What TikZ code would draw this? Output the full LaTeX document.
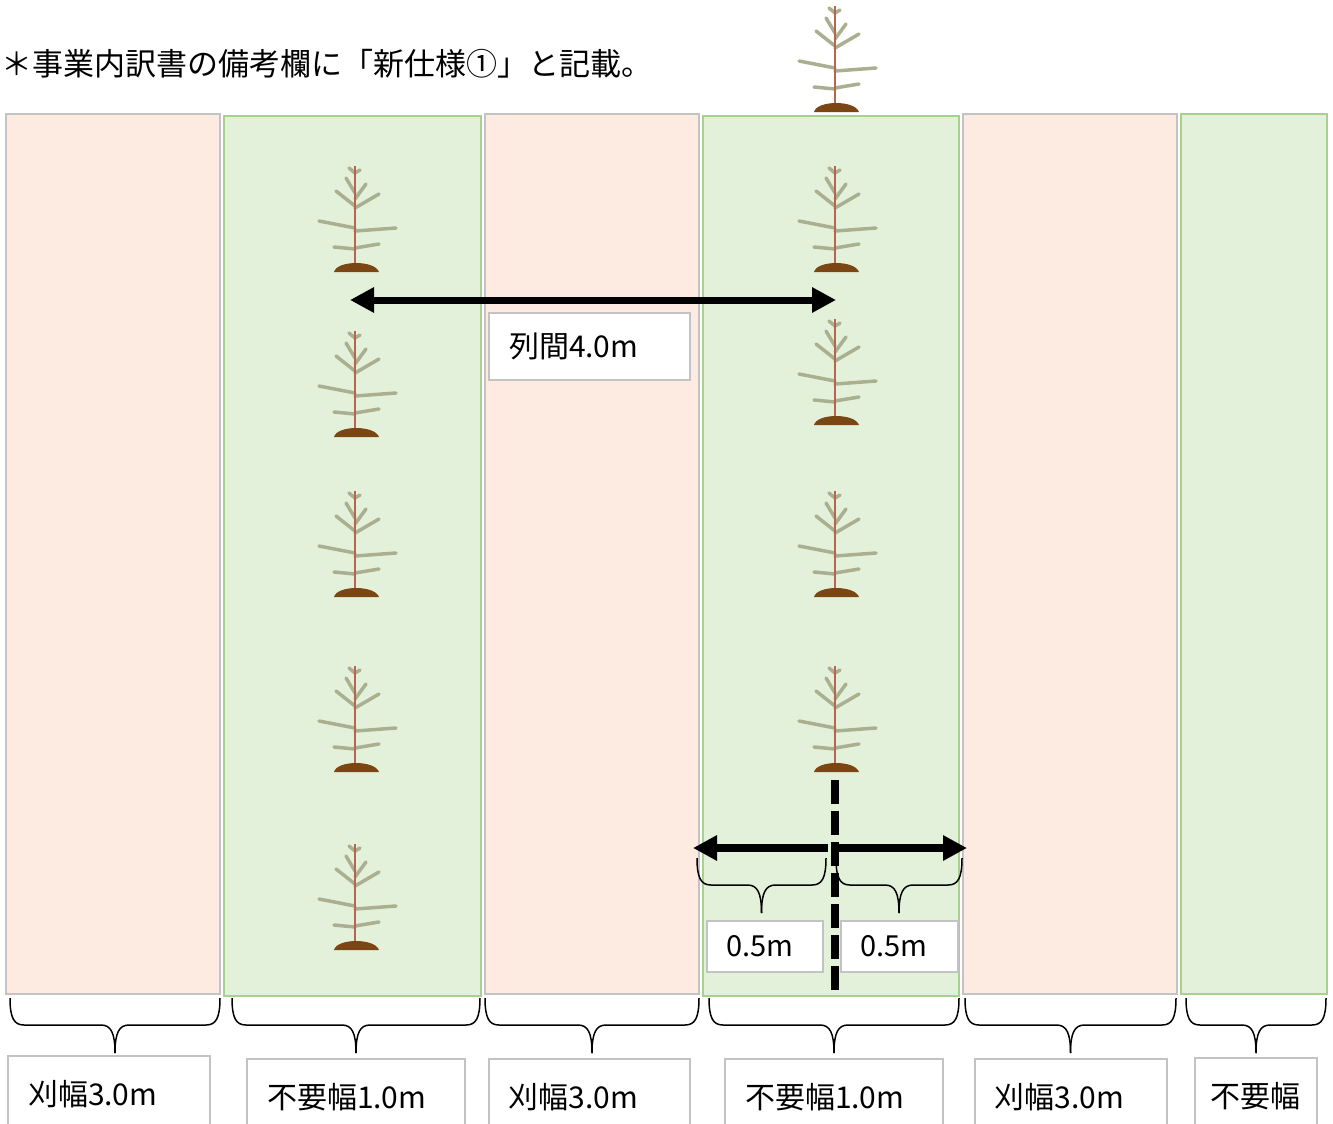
\documentclass[tikz,border=0pt]{standalone}
\usepackage{fontspec}
\setmainfont{Noto Sans CJK JP}
\usepackage{tikz}
\usetikzlibrary{arrows.meta,positioning,calc}

\definecolor{kariFill}{HTML}{FDEAE0}
\definecolor{kariLine}{HTML}{C3C3C3}
\definecolor{fuyoFill}{HTML}{E4F1DA}
\definecolor{fuyoLine}{HTML}{A9D08E}
\definecolor{miki}{HTML}{B8644E}
\definecolor{ha}{HTML}{A9AF8F}
\definecolor{tsuchi}{HTML}{7A4614}

\tikzset{
  kari/.style={draw=kariLine, fill=kariFill, line width=2pt, inner sep=0, outer sep=0, minimum height=880},
  fuyo/.style={draw=fuyoLine, fill=fuyoFill, line width=2pt, inner sep=0, outer sep=0, minimum height=880},
  lbl/.style={draw=kariLine, fill=white, line width=2pt, inner xsep=20pt, inner ysep=0, outer sep=0,
    align=left, font=\fontsize{30}{36}\selectfont},
  kakko/.style={draw=black, line width=1.5pt},
  yajirushi/.style={line width=8pt, -{Triangle[length=24pt,width=24pt]}},
  tensen/.style={line width=8pt, dash pattern=on 24pt off 7pt},
  naegi/.pic={
    \foreach \ty/\bx/\by in {-99/-6/-104, -99/5/-102, -79/-9/-94, -66/-19/-81, -73/11/-88,
      -64/24/-78, -44/-36/-51, -41/41/-44, -23/-21/-25, -24/24/-28}
      \draw[ha, line width=3.5pt, line cap=round] (0,\ty) -- (\bx,\by);
    \draw[miki, line width=2.5pt] (0,-3) -- (0,-106);
    \fill[tsuchi] (-21,0) .. controls (-18,-12) and (20,-12) .. (24,0) -- cycle;
  }
}

% brace under two points, tip named #3
\newcommand{\Kakko}[3]{%
  \coordinate (#3) at ($(#1)!0.5!(#2)+(0,55)$);
  \draw[kakko] (#1) .. controls +(0,20) and +(-10,0) .. ($(#1)+(14,27)$)
    -- ($(#3)+(-14,-28)$) .. controls +(10,0) and +(0,-20) .. (#3);
  \draw[kakko] (#2) .. controls +(0,20) and +(10,0) .. ($(#2)+(-14,27)$)
    -- ($(#3)+(14,-28)$) .. controls +(-10,0) and +(0,-20) .. (#3);
}

\begin{document}
\begin{tikzpicture}[x=1pt,y=-1pt]
  \useasboundingbox (0,0) rectangle (1333,1124);
  \clip (0,0) rectangle (1333,1124);

  \node[anchor=base west, inner sep=0, font=\fontsize{31}{37}\selectfont] (midashi) at (1,76)
    {＊事業内訳書の備考欄に「新仕様①」と記載。};

  % strips
  \node[kari, minimum width=214, anchor=north west] (k1) at (6,114) {};
  \node[fuyo, minimum width=257, right=4pt of k1, yshift=-2pt] (f1) {};
  \node[kari, minimum width=214, right=4pt of f1, yshift=2pt] (k2) {};
  \node[fuyo, minimum width=256, right=4pt of k2, yshift=-2pt] (f2) {};
  \node[kari, minimum width=214, right=4pt of f2, yshift=2pt] (k3) {};
  \node[fuyo, minimum width=146, right=4pt of k3] (f3) {};

  % seedlings
  \foreach \y in {272,437,597,772,950}
    \pic at (355,\y) {naegi};
  \foreach \y in {112,272,425,597,772}
    \pic at (835,\y) {naegi};

  % row spacing
  \coordinate (retsuL) at (350,300);
  \coordinate (retsuR) at (836,300);
  \draw[line width=7pt, {Triangle[length=24pt,width=24pt]}-{Triangle[length=24pt,width=24pt]}] (retsuL) -- (retsuR);
  \node[lbl, minimum width=201, text width=161, minimum height=67, anchor=north west] (retsu) at (489,313) {列間4.0m};

  % centre line and half widths
  \coordinate (chuA) at (835,780);
  \coordinate (chuB) at (835,996);
  \draw[tensen] (chuA) -- (chuB);
  \coordinate (yaC) at (830,848);
  \coordinate (yaL) at (693,848);
  \coordinate (yaR) at (967,848);
  \draw[yajirushi] ([xshift=-2pt]yaC) -- (yaL);
  \draw[yajirushi] ([xshift=2pt]yaC) -- (yaR);

  \coordinate (hL-l) at (697,858);
  \coordinate (hL-r) at (826,858);
  \coordinate (hR-l) at (836,858);
  \coordinate (hR-r) at (962,858);
  \Kakko{hL-l}{hL-r}{hL-tip}
  \Kakko{hR-l}{hR-r}{hR-tip}
  \node[lbl, font=\fontsize{29}{35}\selectfont, minimum width=116, text width=76, minimum height=51, below=8pt of hL-tip, xshift=3pt] (hL) {0.5m};
  \node[lbl, font=\fontsize{29}{35}\selectfont, minimum width=117, text width=77, minimum height=51, below=8pt of hR-tip] (hR) {0.5m};

  % braces under the strips
  \foreach \c/\dl/\dr/\dy in {k1/4/0/4, f1/8/-1/2, k2/0/0/4, f2/6/0/2, k3/2/-1/4, f3/5/-1/4} {
    \coordinate (\c-l) at ([shift={(\dl,\dy)}]\c.south west);
    \coordinate (\c-r) at ([shift={(\dr,\dy)}]\c.south east);
    \Kakko{\c-l}{\c-r}{\c-tip}
  }

  \node[lbl, minimum width=202, text width=162, minimum height=76, below=3pt of k1-tip, xshift=-6pt] (lk1) {刈幅3.0m};
  \node[lbl, minimum width=218, text width=178, minimum height=76, below=6pt of f1-tip] (lf1) {不要幅1.0m};
  \node[lbl, minimum width=201, text width=161, minimum height=76, below=6pt of k2-tip, xshift=-3pt] (lk2) {刈幅3.0m};
  \node[lbl, minimum width=218, text width=178, minimum height=76, below=6pt of f2-tip] (lf2) {不要幅1.0m};
  \node[lbl, minimum width=192, text width=152, minimum height=76, below=6pt of k3-tip] (lk3) {刈幅3.0m};
  \node[lbl, minimum width=122, text width=92, inner xsep=15pt, minimum height=76, below=5pt of f3-tip] (lf3) {不要幅};
\end{tikzpicture}
\end{document}
